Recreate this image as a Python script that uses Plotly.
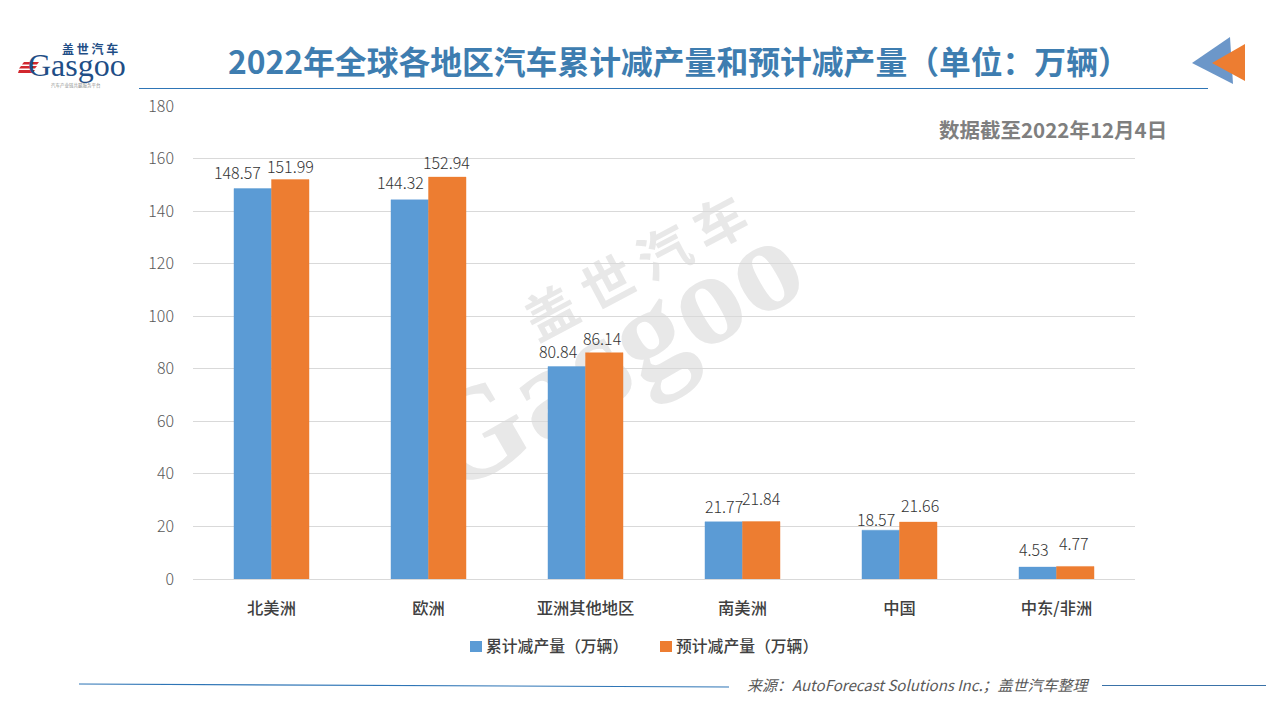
import plotly.graph_objects as go

categories = ["北美洲", "欧洲", "亚洲其他地区", "南美洲", "中国", "中东/非洲"]
cumulative = [148.57, 144.32, 80.84, 21.77, 18.57, 4.53]
forecast = [151.99, 152.94, 86.14, 21.84, 21.66, 4.77]
name_a = "累计减产量（万辆）"
name_b = "预计减产量（万辆）"
label_nudge_a = [-15, -9, -8, 0, -5, -4]
label_nudge_b = [0, -1, -2, 0, 2, -1]
label_lift_a = [3, 4, 2, 2, -3, 4]
label_lift_b = [0, 1, 1, 10, 3, 9]

PL, PR, PT, PB = 193, 1135, 106, 579
W, H = 1280, 720
CJK = "Noto Sans CJK SC"
BLUE, ORANGE = "#5B9BD5", "#ED7D31"


def px(x):
    return (x - PL) / (PR - PL)


def py(y):
    return (PB - y) / (PB - PT)


def poly(points):
    return "M" + "L".join(f"{px(x):.5f},{py(y):.5f}" for x, y in points) + "Z"


def line(x0, y0, x1, y1, color, width=1):
    return dict(type="line", xref="paper", yref="paper", x0=px(x0), y0=py(y0), x1=px(x1), y1=py(y1),
                line=dict(color=color, width=width))


def fill(points, color, layer="above"):
    return dict(type="path", xref="paper", yref="paper", path=poly(points), fillcolor=color,
                line=dict(width=0), layer=layer)


def note(x, y, text, size, color, family=CJK, xanchor="center", weight=None, style=None, angle=0):
    font = dict(family=family, size=size, color=color)
    if weight:
        font["weight"] = weight
    if style:
        font["style"] = style
    return dict(xref="paper", yref="paper", x=px(x), y=py(y), text=text, showarrow=False,
                xanchor=xanchor, yanchor="middle", font=font, textangle=angle, align="center")


def watermark(cx, cy, text, size, family, angle):
    return dict(type="rect", xref="paper", yref="paper", x0=px(cx - 2), x1=px(cx + 2),
                y0=py(cy + 2), y1=py(cy - 2), layer="below", line=dict(width=0),
                fillcolor="rgba(0,0,0,0)",
                label=dict(text=text, textposition="middle center", textangle=angle,
                           font=dict(family=family, size=size, color="#E8E8E8", weight=700)))


fig = go.Figure()
fig.add_bar(x=categories, y=cumulative, name=name_a, marker=dict(color=BLUE, line=dict(color=BLUE, width=0.4)))
fig.add_bar(x=categories, y=forecast, name=name_b, marker=dict(color=ORANGE, line=dict(color=ORANGE, width=0.4)))

annotations = []
for i, cat in enumerate(categories):
    for val, shift, lift in ((cumulative[i], -18.7 + label_nudge_a[i], label_lift_a[i]),
                             (forecast[i], 18.7 + label_nudge_b[i], label_lift_b[i])):
        annotations.append(dict(x=cat, y=val, xref="x", yref="y", text=f"{val:.2f}", showarrow=False,
                                yanchor="bottom", xshift=shift, yshift=lift,
                                font=dict(family=CJK, size=16, color="#333333", weight=300)))

annotations += [
    note(679, 60, "2022年全球各地区汽车累计减产量和预计减产量（单位：万辆）", 31.8, "#3E7DB0", weight=700),
    note(1053, 129, "数据截至2022年12月4日", 20.5, "#7F7F7F", weight=700),
    note(918, 684, "来源：AutoForecast Solutions Inc.；盖世汽车整理", 15, "#595959", style="italic"),
    note(77, 65, "Gasgoo", 32, "#1F4E86", family="Liberation Serif"),
    note(90, 48.5, "盖 世 汽 车", 12, "#1F4E86", weight=700),
    note(76, 85.5, "汽车产业链共赢服务平台", 4.5, "#8C8C8C"),
    note(484, 645, name_a, 15.8, "#404040", xanchor="left", weight=500),
    note(674, 645, name_b, 15.8, "#404040", xanchor="left", weight=500),
]

shapes = [
    watermark(638, 272, "盖 世 汽 车", 52, CJK, -28),
    watermark(602, 342, "Gasgoo", 132, "Liberation Serif", -30),
    line(139, 88.5, 1208, 88.5, "#2E75B6", 1),
    line(79, 684, 729, 687, "#2E75B6", 1.2),
    line(1102, 685.5, 1266, 685.5, "#3A72A8", 1.2),
    fill([(1192, 63), (1230, 37), (1233, 84)], "#6C97C9"),
    fill([(1212, 63), (1245, 44), (1245, 81)], ORANGE),
    fill([(24, 62), (39, 62), (37, 64.5), (22, 64.5)], "#D2282E"),
    fill([(21, 66), (37, 66), (35, 68.5), (19, 68.5)], "#D2282E"),
    fill([(19, 70), (35, 70), (33, 73), (18, 73)], "#D2282E"),
    fill([(470, 641), (482, 641), (482, 652), (470, 652)], BLUE),
    fill([(660, 641), (672, 641), (672, 652), (660, 652)], ORANGE),
]

fig.update_layout(
    width=W, height=H, autosize=False,
    paper_bgcolor="white", plot_bgcolor="rgba(0,0,0,0)",
    margin=dict(l=PL, r=W - PR, t=PT, b=H - PB, autoexpand=False),
    barmode="group", bargap=0.522, bargroupgap=0,
    showlegend=False,
    xaxis=dict(showgrid=False, showline=True, linecolor="#D9D9D9", linewidth=1, ticks="",
               ticklabelstandoff=14, tickfont=dict(family=CJK, size=16.3, color="#404040", weight=500)),
    yaxis=dict(range=[0, 180], dtick=20, showgrid=True, gridcolor="#D9D9D9", gridwidth=1, zeroline=False,
               showline=False, ticks="", ticklabelstandoff=18,
               tickfont=dict(family=CJK, size=16, color="#595959", weight=300)),
    annotations=annotations, shapes=shapes,
)

fig.write_html("out.html", config=dict(displayModeBar=False),
               post_script="document.body.style.margin='0';document.documentElement.style.overflow='hidden';")
